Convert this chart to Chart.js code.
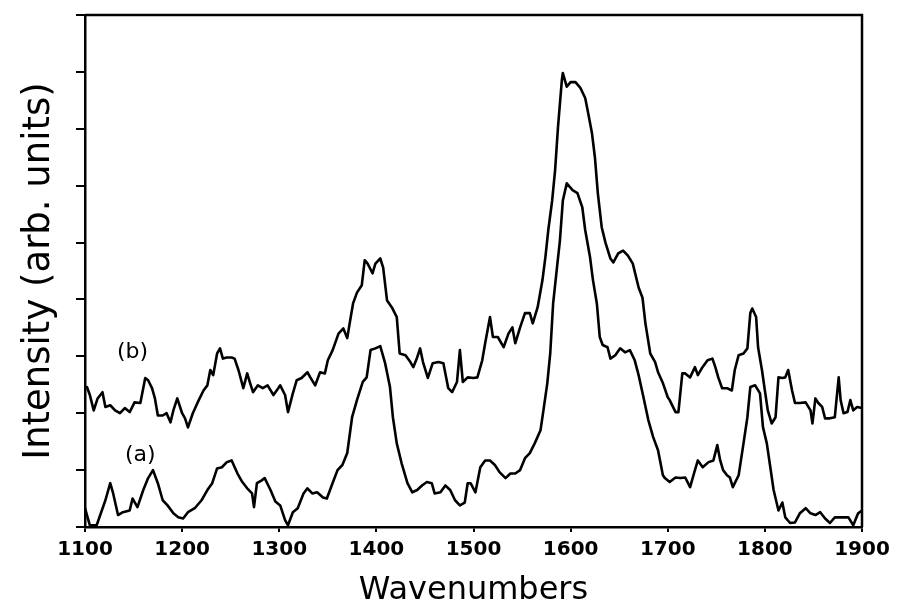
<!DOCTYPE html>
<html>
<head>
<meta charset="utf-8">
<script src="https://cdn.jsdelivr.net/npm/chart.js@4/dist/chart.umd.min.js"></script>
<style>
  html, body { margin: 0; padding: 0; background: #fff; }
  #wrap { width: 897px; height: 610px; }
</style>
</head>
<body>
<div id="wrap"><canvas id="c" width="897" height="610"></canvas></div>
<script>
// ---- data ----
const wavenumbersA = [1100,1105,1112,1121,1126,1129,1134,1139,1146,1149,1154,1160,1165,1170,1175,1180,1185,1191,1196,1201,1206,1213,1220,1226,1231,1236,1241,1246,1251,1257,1262,1267,1272,1274,1277,1282,1285,1291,1296,1301,1306,1309,1314,1319,1325,1329,1334,1339,1345,1349,1354,1360,1365,1370,1375,1380,1386,1390,1394,1399,1404,1409,1414,1417,1421,1426,1432,1437,1442,1447,1452,1457,1460,1466,1471,1476,1481,1486,1491,1494,1497,1502,1507,1512,1517,1522,1527,1533,1538,1543,1548,1553,1558,1563,1569,1572,1576,1579,1582,1586,1589,1592,1596,1602,1607,1612,1615,1620,1623,1627,1630,1633,1638,1641,1646,1651,1656,1661,1666,1670,1675,1680,1685,1690,1695,1697,1702,1708,1713,1718,1723,1728,1731,1736,1742,1747,1751,1754,1757,1761,1764,1767,1773,1778,1782,1785,1790,1795,1798,1802,1805,1809,1814,1818,1821,1826,1831,1836,1842,1847,1852,1857,1862,1867,1872,1880,1886,1891,1896,1900];
const intensityA = [0.33,0.03,0.03,0.47,0.77,0.59,0.21,0.26,0.29,0.50,0.35,0.65,0.86,1.00,0.77,0.47,0.38,0.24,0.17,0.15,0.26,0.33,0.47,0.65,0.77,1.03,1.05,1.14,1.17,0.94,0.79,0.68,0.59,0.35,0.77,0.82,0.86,0.65,0.45,0.38,0.12,0.03,0.26,0.33,0.59,0.68,0.59,0.61,0.52,0.50,0.73,1.00,1.09,1.30,1.93,2.23,2.55,2.63,3.11,3.14,3.18,2.88,2.46,1.93,1.47,1.12,0.77,0.61,0.65,0.73,0.79,0.77,0.59,0.61,0.73,0.65,0.47,0.38,0.43,0.77,0.77,0.61,1.05,1.17,1.17,1.09,0.96,0.86,0.94,0.94,1.00,1.21,1.30,1.47,1.70,2.05,2.53,3.05,3.93,4.57,5.04,5.74,6.04,5.92,5.87,5.62,5.22,4.74,4.34,3.93,3.34,3.20,3.16,2.96,3.02,3.14,3.07,3.11,2.93,2.67,2.28,1.88,1.58,1.35,0.91,0.86,0.79,0.87,0.86,0.87,0.70,1.00,1.17,1.05,1.14,1.17,1.44,1.17,1.00,0.91,0.87,0.70,0.91,1.47,1.93,2.46,2.49,2.35,1.76,1.47,1.12,0.65,0.29,0.43,0.17,0.07,0.08,0.24,0.33,0.24,0.21,0.26,0.15,0.07,0.17,0.17,0.17,0.03,0.24,0.29];

const wavenumbersB = [1100,1102,1105,1109,1113,1118,1121,1126,1131,1136,1141,1146,1151,1157,1162,1165,1169,1172,1175,1180,1184,1188,1191,1195,1200,1203,1206,1211,1216,1222,1226,1229,1232,1236,1239,1242,1246,1251,1254,1258,1263,1267,1270,1273,1278,1283,1288,1294,1299,1301,1306,1309,1314,1318,1323,1329,1332,1337,1342,1347,1350,1355,1361,1366,1370,1373,1376,1380,1385,1388,1391,1396,1399,1404,1407,1411,1416,1421,1424,1430,1435,1438,1442,1445,1448,1453,1458,1464,1469,1474,1478,1483,1486,1489,1494,1500,1504,1509,1512,1517,1520,1525,1531,1536,1540,1543,1548,1553,1558,1561,1566,1571,1574,1577,1581,1584,1587,1591,1592,1596,1600,1605,1610,1615,1618,1622,1625,1628,1632,1636,1641,1644,1649,1654,1659,1664,1670,1674,1677,1682,1687,1690,1695,1700,1702,1708,1711,1715,1718,1723,1728,1731,1735,1741,1746,1749,1752,1756,1761,1766,1769,1773,1778,1782,1785,1787,1791,1793,1797,1800,1803,1807,1811,1814,1818,1821,1824,1828,1831,1836,1842,1847,1849,1852,1855,1859,1862,1867,1872,1876,1878,1881,1885,1888,1891,1895,1900];
const intensityB = [2.46,2.46,2.32,2.05,2.26,2.37,2.11,2.14,2.05,2.00,2.09,2.02,2.19,2.18,2.62,2.58,2.44,2.26,1.96,1.96,2.00,1.84,2.05,2.26,2.00,1.91,1.75,2.00,2.19,2.40,2.49,2.76,2.67,3.05,3.14,2.96,2.98,2.98,2.96,2.76,2.44,2.70,2.53,2.37,2.49,2.44,2.49,2.32,2.44,2.49,2.32,2.02,2.35,2.58,2.62,2.72,2.63,2.49,2.72,2.70,2.93,3.11,3.40,3.49,3.32,3.63,3.93,4.12,4.25,4.69,4.63,4.46,4.63,4.72,4.56,3.98,3.86,3.69,3.05,3.02,2.90,2.81,2.98,3.14,2.90,2.62,2.88,2.90,2.88,2.44,2.37,2.55,3.11,2.55,2.63,2.62,2.63,2.93,3.23,3.69,3.34,3.34,3.16,3.40,3.51,3.23,3.51,3.76,3.76,3.58,3.86,4.34,4.74,5.22,5.74,6.27,7.03,7.86,7.98,7.74,7.82,7.82,7.72,7.54,7.28,6.92,6.50,5.87,5.27,4.99,4.72,4.65,4.81,4.86,4.77,4.63,4.21,4.03,3.58,3.05,2.90,2.72,2.53,2.28,2.23,2.02,2.02,2.70,2.70,2.63,2.81,2.67,2.79,2.93,2.96,2.81,2.63,2.44,2.44,2.40,2.76,3.02,3.05,3.14,3.76,3.84,3.69,3.16,2.76,2.40,2.05,1.82,1.93,2.63,2.62,2.63,2.76,2.40,2.18,2.18,2.19,2.05,1.82,2.26,2.18,2.11,1.91,1.91,1.93,2.63,2.23,2.00,2.02,2.23,2.05,2.11,2.09];

const xTicks = [1100,1200,1300,1400,1500,1600,1700,1800,1900];
const yTicks = [0,1,2,3,4,5,6,7,8,9];
const curveLabels = ['(b)', '(a)'];
const curveLabelX = [1149, 1157];
const curveLabelY = [3.07, 1.26];

// ---- chart ----
const toXY = (xs, ys) => xs.map((x, i) => ({ x: x, y: ys[i] }));

const frame = {
  id: 'frame',
  afterDatasetsDraw(chart) {
    const { ctx, chartArea: a } = chart;
    ctx.save();
    ctx.strokeStyle = '#000';
    ctx.lineWidth = 2.5;
    ctx.beginPath();
    ctx.moveTo(a.left, a.top);
    ctx.lineTo(a.right, a.top);
    ctx.lineTo(a.right, a.bottom);
    ctx.stroke();
    ctx.restore();
  }
};

const labelsPlugin = {
  id: 'curveLabels',
  afterDatasetsDraw(chart) {
    const { ctx, scales } = chart;
    ctx.save();
    ctx.fillStyle = '#000';
    ctx.font = '22px "DejaVu Sans"';
    ctx.textAlign = 'center';
    ctx.textBaseline = 'middle';
    curveLabels.forEach((t, i) => {
      ctx.fillText(t, scales.x.getPixelForValue(curveLabelX[i]), scales.y.getPixelForValue(curveLabelY[i]));
    });
    ctx.restore();
  }
};

new Chart(document.getElementById('c'), {
  type: 'scatter',
  data: {
    datasets: [
      { label: '(a)', data: toXY(wavenumbersA, intensityA) },
      { label: '(b)', data: toXY(wavenumbersB, intensityB) }
    ]
  },
  options: {
    responsive: false,
    animation: false,
    showLine: true,
    layout: { padding: { top: 15, right: 35, left: 0, bottom: 0 } },
    elements: {
      point: { radius: 0 },
      line: { borderColor: '#000', borderWidth: 2.6, tension: 0, borderJoinStyle: 'round' }
    },
    plugins: { legend: { display: false }, tooltip: { enabled: false } },
    scales: {
      x: {
        type: 'linear',
        min: 1100, max: 1900,
        afterFit(s) { s.height = 83; },
        afterBuildTicks(s) { s.ticks = xTicks.map(v => ({ value: v })); },
        border: { display: true, color: '#000', width: 2.5 },
        grid: { drawOnChartArea: false, drawTicks: true, tickLength: 5, color: '#000', lineWidth: 2 },
        ticks: { color: '#000', padding: 6, maxRotation: 0, callback: v => String(v),
                 font: { family: 'DejaVu Sans', size: 20, weight: 'bold' } },
        title: { display: true, text: 'Wavenumbers', color: '#000', padding: { top: 0, bottom: 0 },
                 font: { family: 'DejaVu Sans', size: 32 } }
      },
      y: {
        type: 'linear',
        min: 0, max: 9,
        afterFit(s) { s.width = 85; },
        afterBuildTicks(s) { s.ticks = yTicks.map(v => ({ value: v })); },
        border: { display: true, color: '#000', width: 2.5 },
        grid: { drawOnChartArea: false, drawTicks: true, tickLength: 9, color: '#000', lineWidth: 2 },
        ticks: { display: false },
        title: { display: true, text: 'Intensity (arb. units)', color: '#000', padding: { top: 17, bottom: 0 },
                 font: { family: 'DejaVu Sans', size: 37 } }
      }
    }
  },
  plugins: [frame, labelsPlugin]
});
</script>
</body>
</html>
